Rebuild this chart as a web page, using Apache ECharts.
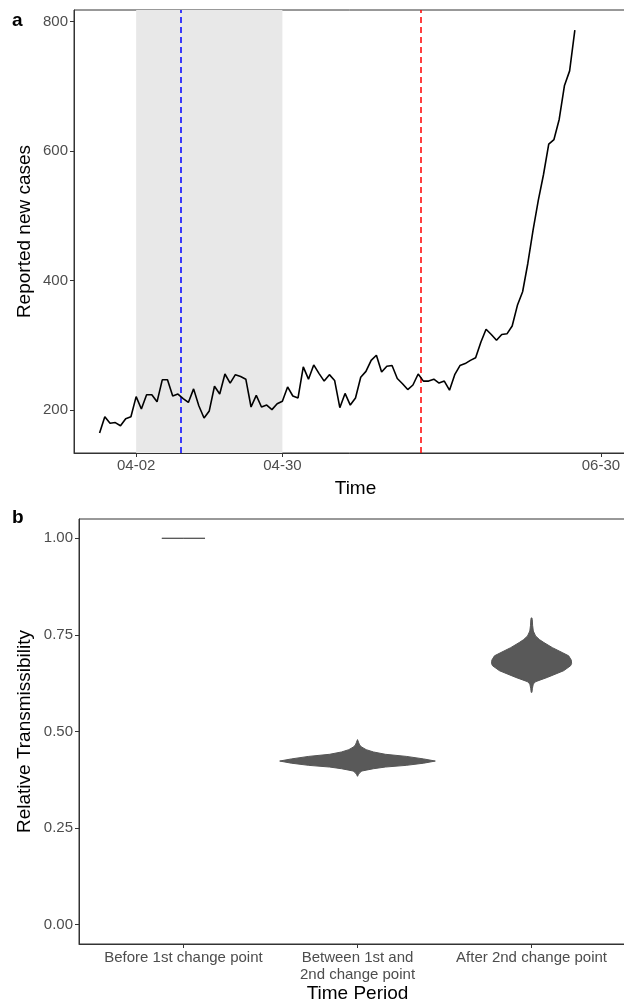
<!DOCTYPE html>
<html>
<head>
<meta charset="utf-8">
<title>Reported cases and relative transmissibility</title>
<script src="https://cdn.jsdelivr.net/npm/echarts@6/dist/echarts.min.js"></script>
<style>
  html, body { margin: 0; padding: 0; background: #fff; }
  #chart { width: 624px; height: 1006px; }
</style>
</head>
<body>
<div id="chart"></div>
<script>
// ---- panel a data ----
var startDate = '2020-03-26';
var newCases = [
  165, 190, 180, 181, 176, 187, 190, 221, 202, 224,
  224, 213, 247, 247, 222, 225, 218, 212, 233, 207,
  188, 199, 237, 225, 256, 242, 255, 252, 248, 205,
  223, 205, 208, 201, 210, 214, 236, 222, 219, 267,
  248, 270, 257, 245, 255, 246, 204, 226, 208, 219,
  251, 260, 277, 285, 259, 268, 269, 249, 241, 232,
  239, 256, 245, 245, 248, 242, 245, 231, 255, 269,
  272, 277, 281, 305, 325, 317, 308, 317, 318, 330,
  362, 383, 427, 478, 524, 564, 611, 618, 649, 701,
  724, 787
];
var dateTicks = ['2020-04-02', '2020-04-30', '2020-06-30'];
var dateLimits = ['2020-03-26', '2020-07-02'];
var shadeRange = ['2020-04-02', '2020-04-30'];
var changePoints = ['2020-04-10 12:00', '2020-05-26 14:00'];
var caseTicks = [200, 400, 600, 800];

// ---- panel b data ----
var periods = ['Before 1st change point', 'Between 1st and\n2nd change point', 'After 2nd change point'];
var transTicks = [0, 0.25, 0.5, 0.75, 1];
// violin outlines: value along the axis and half width (category units)
var violinValues = [
  [1.0, 1.0, 1.0],
  [0.479, 0.472, 0.465, 0.4595, 0.453, 0.447, 0.441, 0.4356, 0.429, 0.4235,
   0.418, 0.4124, 0.408, 0.4037, 0.400, 0.3977, 0.393, 0.3892, 0.384],
  [0.794, 0.790, 0.775, 0.760, 0.7474, 0.738, 0.7302, 0.717, 0.7044, 0.6959,
   0.685, 0.676, 0.6701, 0.6572, 0.6399, 0.6289, 0.6229, 0.612, 0.6013]
];
var violinWidths = [
  [0, 0.124, 0],
  [0, 0.006, 0.012, 0.025, 0.05, 0.092, 0.16, 0.28, 0.38, 0.447,
   0.38, 0.28, 0.16, 0.092, 0.05, 0.025, 0.012, 0.006, 0],
  [0.002, 0.004, 0.006, 0.01, 0.023, 0.045, 0.071, 0.12, 0.176, 0.213,
   0.228, 0.23, 0.224, 0.184, 0.09, 0.023, 0.01, 0.005, 0.002]
];

function ts(s) {
  var parts = s.split(' ');
  var d = parts[0].split('-').map(Number);
  var t = parts[1] ? parts[1].split(':').map(Number) : [0, 0];
  return new Date(d[0], d[1] - 1, d[2], t[0], t[1]).getTime();
}
function pad(n) { return (n < 10 ? '0' : '') + n; }

var s0 = startDate.split('-').map(Number);
var caseData = newCases.map(function (v, i) {
  return [new Date(s0[0], s0[1] - 1, s0[2] + i).getTime(), v];
});
// ggplot style 5% expansion of the date limits
var span = ts(dateLimits[1]) - ts(dateLimits[0]);
var xMin = ts(dateLimits[0]) - 0.05 * span;
var xMax = ts(dateLimits[1]) + 0.05 * span;

var labelFont = 'Liberation Sans, Arial, sans-serif';
var tickColor = '#4d4d4d';
var tickSize = 15;
var titleSize = 19;

var chart = echarts.init(document.getElementById('chart'));
var option = {
  animation: false,
  backgroundColor: '#fff',
  textStyle: { fontFamily: labelFont },
  graphic: [
    { type: 'text', left: 12, top: 11, style: { text: 'a', font: 'bold 19px ' + labelFont, fill: '#000' } },
    { type: 'text', left: 12, top: 508, style: { text: 'b', font: 'bold 19px ' + labelFont, fill: '#000' } }
  ],
  // the right edge of both panels runs past the picture, as in the original
  grid: [
    { left: 74, top: 10, width: 563, height: 443, outerBoundsMode: 'none', containLabel: false,
      show: true, borderColor: '#333', borderWidth: 1, backgroundColor: 'transparent' },
    { left: 79, top: 519, width: 557, height: 425, outerBoundsMode: 'none', containLabel: false,
      show: true, borderColor: '#333', borderWidth: 1, backgroundColor: 'transparent' }
  ],
  xAxis: [
    {
      // dates kept as timestamps on a value axis so the three breaks can be placed exactly
      type: 'value', gridIndex: 0, min: xMin, max: xMax,
      name: 'Time', nameLocation: 'middle', nameGap: 26, nameMoveOverlap: false,
      nameTextStyle: { fontSize: titleSize, color: '#000' },
      axisLine: { show: true, onZero: false, lineStyle: { color: '#333' } },
      axisTick: { show: true, length: 4, lineStyle: { color: '#333' }, customValues: dateTicks.map(ts) },
      axisLabel: {
        fontSize: tickSize, color: tickColor, margin: 5, customValues: dateTicks.map(ts),
        formatter: function (v) { var d = new Date(v); return pad(d.getMonth() + 1) + '-' + pad(d.getDate()); }
      },
      splitLine: { show: false }
    },
    {
      type: 'value', gridIndex: 1, min: 0.4, max: 3.6,
      name: 'Time Period', nameLocation: 'middle', nameGap: 40, nameMoveOverlap: false,
      nameTextStyle: { fontSize: titleSize, color: '#000' },
      axisLine: { show: true, onZero: false, lineStyle: { color: '#333' } },
      axisTick: { show: true, length: 4, lineStyle: { color: '#333' }, customValues: [1, 2, 3] },
      axisLabel: {
        fontSize: tickSize, color: tickColor, margin: 5, lineHeight: 17, customValues: [1, 2, 3],
        formatter: function (v) { return periods[Math.round(v) - 1] || ''; }
      },
      splitLine: { show: false }
    }
  ],
  yAxis: [
    {
      type: 'value', gridIndex: 0, min: 134, max: 818,
      name: 'Reported new cases', nameLocation: 'middle', nameGap: 40, nameMoveOverlap: false,
      nameTextStyle: { fontSize: titleSize, color: '#000' },
      axisLine: { show: true, onZero: false, lineStyle: { color: '#333' } },
      axisTick: { show: true, length: 4, lineStyle: { color: '#333' }, customValues: caseTicks },
      axisLabel: { fontSize: tickSize, color: tickColor, margin: 6, customValues: caseTicks },
      splitLine: { show: false }
    },
    {
      type: 'value', gridIndex: 1, min: -0.05, max: 1.05,
      name: 'Relative Transmissibility', nameLocation: 'middle', nameGap: 45, nameMoveOverlap: false,
      nameTextStyle: { fontSize: titleSize, color: '#000' },
      axisLine: { show: true, onZero: false, lineStyle: { color: '#333' } },
      axisTick: { show: true, length: 4, lineStyle: { color: '#333' }, customValues: transTicks },
      axisLabel: {
        fontSize: tickSize, color: tickColor, margin: 6, customValues: transTicks,
        formatter: function (v) { return v.toFixed(2); }
      },
      splitLine: { show: false }
    }
  ],
  series: [
    {
      type: 'line', xAxisIndex: 0, yAxisIndex: 0,
      data: caseData, showSymbol: false, symbol: 'none',
      lineStyle: { color: '#000', width: 1.6 },
      z: 5,
      markArea: {
        silent: true,
        itemStyle: { color: '#e8e8e8' },
        data: [[{ xAxis: ts(shadeRange[0]) }, { xAxis: ts(shadeRange[1]) }]]
      },
      markLine: {
        silent: true, symbol: 'none', label: { show: false },
        data: [
          { xAxis: ts(changePoints[0]), lineStyle: { color: '#0000ff', type: [6, 4], width: 1.5 } },
          { xAxis: ts(changePoints[1]), lineStyle: { color: '#ff0000', type: [6, 4], width: 1.5 } }
        ]
      }
    },
    {
      type: 'custom', xAxisIndex: 1, yAxisIndex: 1,
      data: periods.map(function (p, i) { return [i + 1, violinValues[i][0]]; }),
      renderItem: function (params, api) {
        var i = params.dataIndex;
        var vals = violinValues[i], w = violinWidths[i];
        var pts = [];
        for (var j = 0; j < vals.length; j++) pts.push(api.coord([i + 1 + w[j], vals[j]]));
        for (var k = vals.length - 1; k >= 0; k--) pts.push(api.coord([i + 1 - w[k], vals[k]]));
        return {
          type: 'polygon',
          shape: { points: pts, smooth: 0 },
          style: { fill: '#595959', stroke: '#555', lineWidth: 1 }
        };
      }
    }
  ]
};
chart.setOption(option);
</script>
</body>
</html>
